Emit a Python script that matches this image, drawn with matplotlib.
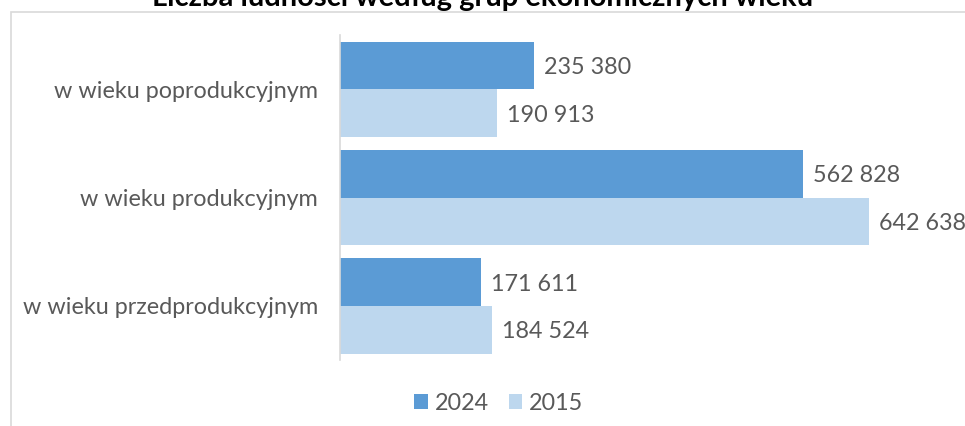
import matplotlib
matplotlib.use("Agg")
import matplotlib.pyplot as plt
from matplotlib.patches import Rectangle

# Dane
categories = ["w wieku przedprodukcyjnym", "w wieku produkcyjnym", "w wieku poprodukcyjnym"]
values_2024 = [171611, 562828, 235380]
values_2015 = [184524, 642638, 190913]
series_labels = ["2024", "2015"]

color_2024 = "#5B9BD5"
color_2015 = "#BDD7EE"
text_color = "#595959"
fs = 16.8

plt.rcParams["font.family"] = ["Lato", "DejaVu Sans"]


def fmt(v):
    return f"{v:,}".replace(",", " ")


fig = plt.figure(figsize=(9.65, 4.26), dpi=100)

# ramka wykresu (ucięta z prawej i od dołu)
fig.patches.append(Rectangle((11 / 965, -0.1), 1.2, 1.1 - 12 / 426,
                             transform=fig.transFigure, fill=False,
                             edgecolor="#D9D9D9", linewidth=1.2))

ax = fig.add_axes([340 / 965, 1 - 360 / 426, 576 / 965, 325 / 426])

y = list(range(len(categories)))
h = 0.44
bars_2024 = ax.barh([i + h / 2 for i in y], values_2024, height=h, color=color_2024, label=series_labels[0])
bars_2015 = ax.barh([i - h / 2 for i in y], values_2015, height=h, color=color_2015, label=series_labels[1])

for bars, vals in ((bars_2024, values_2024), (bars_2015, values_2015)):
    for b, v in zip(bars, vals):
        ax.text(v + 12500, b.get_y() + b.get_height() / 2 - 0.02, fmt(v), va="center", ha="left",
                fontsize=fs, color=text_color, clip_on=False)

ax.set_xlim(0, 700000)
ax.set_ylim(-0.5, 2.5)
ax.set_yticks(y)
ax.set_yticklabels(categories, fontsize=fs, color=text_color)
ax.tick_params(axis="y", length=0, pad=16)
ax.set_xticks([])
for s in ("top", "right", "bottom"):
    ax.spines[s].set_visible(False)
ax.spines["left"].set_color("#D9D9D9")
ax.spines["left"].set_linewidth(1.2)

fig.legend(handles=[bars_2024, bars_2015], labels=series_labels, loc="center",
           bbox_to_anchor=(0.517, 1 - 403 / 426), ncol=2, frameon=False,
           fontsize=fs, labelcolor=text_color, handlelength=0.58, handleheight=0.58,
           handletextpad=0.3, columnspacing=0.85)

fig.text(0.5, 1 - 6 / 426, "Liczba ludności według grup ekonomicznych wieku",
         ha="center", va="baseline", fontsize=21, fontweight="bold", color="black")

fig.savefig("out.png", dpi=100)
